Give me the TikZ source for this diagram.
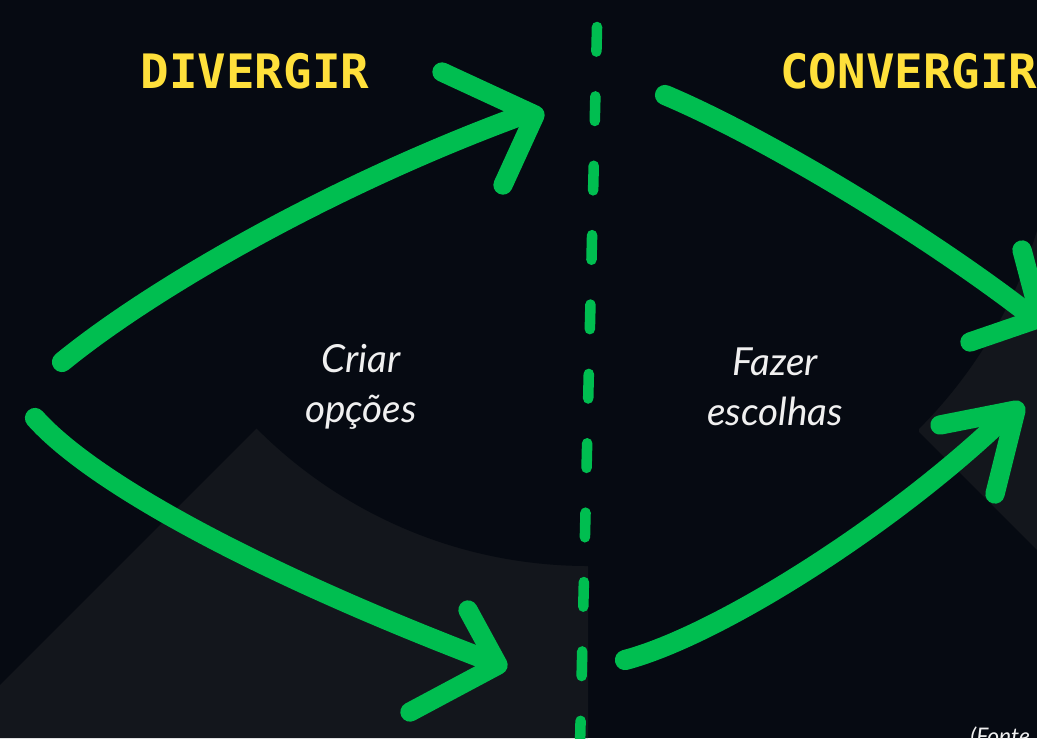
\documentclass[tikz,border=0pt]{standalone}
\usepackage{fontspec}
\newfontfamily\titlefam{DejaVu Sans Mono}
\newfontfamily\notefam{Lato}
\definecolor{bgdark}{RGB}{6,10,18}
\definecolor{bglight}{RGB}{19,22,28}
\definecolor{arrowgreen}{RGB}{0,190,80}
\definecolor{titleyellow}{RGB}{255,224,59}
\definecolor{notewhite}{RGB}{240,240,240}

\begin{document}
\begin{tikzpicture}[x=0.02cm, y=-0.02cm,
  stroke/.style={draw=arrowgreen, line width=11.5pt, line cap=round, line join=round},
  head/.style={draw=arrowgreen, line width=11pt, line cap=round, line join=round},
  divider/.style={draw=arrowgreen, line width=6pt, line cap=round, dash pattern=on 14pt off 25.5pt},
  title/.style={font=\titlefam\bfseries\fontsize{27}{30}\selectfont, text=titleyellow, inner sep=0pt},
  note/.style={font=\notefam\itshape\fontsize{22}{28.4}\selectfont, text=notewhite, align=center, inner sep=0pt}]

\useasboundingbox (0,0) rectangle (1037,738);
\clip (0,0) rectangle (1037,738);
\fill[bgdark] (0,0) rectangle (1037,738);
% lighter shapes, then the big dark circle over them
\fill[bglight] (0,685) -- (300,385) -- (588,385) -- (588,738) -- (0,738) -- cycle;
\fill[bglight] (919,432) -- (1037,550) -- (1037,150) -- (919,150) -- cycle;
\fill[bgdark] (588,98) circle (468);

% divider
\coordinate (divtop) at (597,27);
\coordinate (divbot) at (580,745);
\draw[divider] (divtop) -- (divbot);

% titles
\node[title, anchor=base] (diverge) at (255,88) {DIVERGIR};
\node[title, anchor=base west] (converge) at (780,88) {CONVERGIR};

% diverging arrows
\coordinate (up1) at (62,362);
\coordinate (up2) at (528,113);
\draw[stroke] (up1) .. controls (150,290) and (330,185) .. (up2);
\coordinate (upa) at (442,72);
\coordinate (uptip) at (535,115);
\coordinate (upb) at (503,185);
\draw[head] (upa) -- (uptip) -- (upb);

\coordinate (down1) at (35,418);
\coordinate (down2) at (495,663);
\draw[stroke] (down1) .. controls (90,480) and (250,570) .. (down2);
\coordinate (downa) at (468,610);
\coordinate (downtip) at (498,665);
\coordinate (downb) at (410,712);
\draw[head] (downa) -- (downtip) -- (downb);

% converging arrows
\coordinate (in1) at (665,95);
\coordinate (in2) at (1030,315);
\draw[stroke] (in1) .. controls (760,135) and (920,230) .. (in2);
\coordinate (ina) at (1022,250);
\coordinate (intip) at (1040,318);
\coordinate (inb) at (970,342);
\draw[head] (ina) -- (intip) -- (inb);

\coordinate (rise1) at (625,660);
\coordinate (rise2) at (1010,412);
\draw[stroke] (rise1) .. controls (720,635) and (900,520) .. (rise2);
\coordinate (risea) at (940,425);
\coordinate (risetip) at (1016,410);
\coordinate (riseb) at (995,494);
\draw[head] (risea) -- (risetip) -- (riseb);

% labels
\node[note] (criar) at (361,387) {Criar\\opções};
\node[note] (fazer) at (775,387) {Fazer\\escolhas};
\node[note, font=\notefam\itshape\fontsize{13}{15}\selectfont, anchor=base west] (fonte) at (970,744) {(Fonte};
\end{tikzpicture}
\end{document}
